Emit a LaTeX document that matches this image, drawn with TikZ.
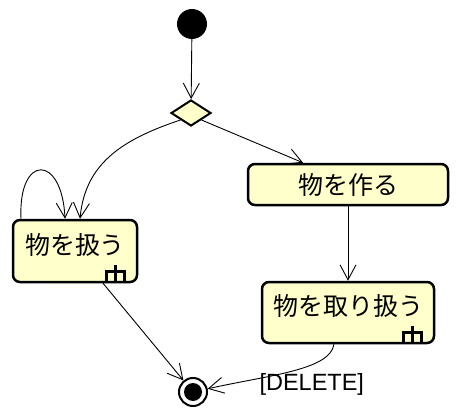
\documentclass[tikz,border=0pt]{standalone}
\usepackage{fontspec}
\setmainfont{Liberation Sans}
\newfontfamily\jpfont{Noto Sans CJK JP}
\usetikzlibrary{arrows.meta, positioning, shapes.geometric}
\definecolor{actionyellow}{RGB}{255,255,204}

% small rake mark in the lower right corner of an action
\newcommand{\drawrake}[1]{%
  \begin{scope}[shift={(#1.south east)}]
    \draw[line width=2.6pt] (-23,-18) -- (-23,-2);
    \draw[line width=2.6pt] (-32,-2) -- (-32,-12) -- (-14,-12) -- (-14,-2);
  \end{scope}}

\begin{document}
\begin{tikzpicture}[
    x=1pt, y=-1pt,
    every node/.style={font=\fontsize{23.5}{28}\selectfont},
    actionbox/.style={rectangle, draw=black, line width=2.5pt, fill=actionyellow, rounded corners=7pt, inner sep=2pt, font=\jpfont\fontsize{25}{30}\selectfont},
    raketext/.style={text depth=15pt},
    decisionbox/.style={diamond, draw=black, line width=2pt, fill=actionyellow, minimum width=40pt, minimum height=26pt, inner sep=0pt},
    startdot/.style={circle, fill=black, minimum size=30pt, inner sep=0pt},
    enddot/.style={circle, draw=black, line width=2pt, fill=white, minimum size=28pt, inner sep=0pt,
      path picture={\fill[black] (path picture bounding box.center) circle (9pt);}},
    flow/.style={line width=0.9pt, -{Straight Barb[length=15pt, width=16pt]}}
]
\useasboundingbox (0,0) rectangle (461,420);

\node[startdot] (start) at (192,24) {};
\node[decisionbox] (choose) at (191,113) {};
\node[actionbox, minimum width=124pt, minimum height=62pt, raketext] (handle) at (75,251) {物を扱う};
\node[actionbox, minimum width=200pt, minimum height=41pt] (make) at (348,184.5) {物を作る};
\node[actionbox, minimum width=172pt, minimum height=61pt, raketext] (treat) at (348,312.5) {物を取り扱う};
\node[enddot] (finish) at (193,392) {};
\node[anchor=base west] (guard) at (256,390) {[DELETE]};

\drawrake{handle}
\drawrake{treat}

\draw[flow] (start) -- (choose);
\draw[flow] (choose.south west) .. controls (120,140) and (85,165) .. ([xshift=5pt]handle.north);
\draw[flow] ([xshift=-54pt]handle.north) .. controls +(-3,-65) and +(-3,-65) .. ([xshift=-10pt]handle.north);
\draw[flow] (choose.south east) -- ([xshift=-45pt]make.north);
\draw[flow] (make) -- (treat);
\draw[flow] ([xshift=28pt]handle.south) -- (finish);
\draw[flow] ([xshift=-14pt]treat.south) .. controls (330,370) and (270,375) .. (finish);

\end{tikzpicture}
\end{document}
